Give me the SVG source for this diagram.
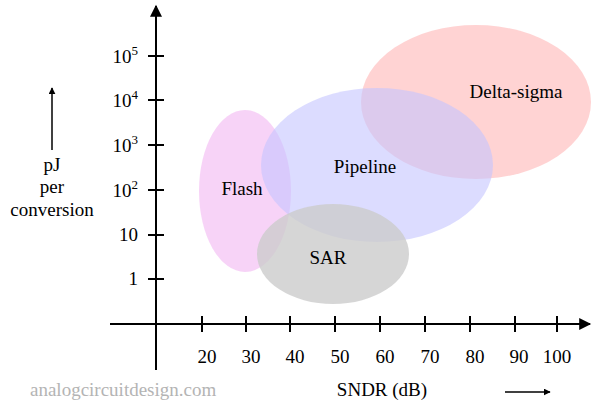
<svg xmlns="http://www.w3.org/2000/svg" width="600" height="407" viewBox="0 0 600 407">
<style>
text{font-family:"Liberation Serif","Times New Roman",serif;font-size:19px;fill:#000}
.ax{stroke:#000;stroke-width:2;fill:none}
.yl{text-anchor:end}
.xl{text-anchor:middle}
</style>
<defs>
<marker id="ah" viewBox="0 0 10 10" refX="9" refY="5" markerWidth="7" markerHeight="7" markerUnits="userSpaceOnUse" orient="auto"><path d="M0,0L10,5L0,10z" fill="#000"/></marker>
<marker id="big" viewBox="0 0 10 10" refX="9" refY="5" markerWidth="14" markerHeight="12" markerUnits="userSpaceOnUse" orient="auto"><path d="M0,0L10,5L0,10z" fill="#000"/></marker>
</defs>
<rect width="600" height="407" fill="#fff"/>
<g id="flash"><ellipse cx="245" cy="191" rx="46" ry="81" fill="#f4c4f4" opacity="0.75"/><text x="242" y="195" class="xl">Flash</text></g>
<g id="deltasigma"><ellipse cx="476" cy="102" rx="115" ry="77" fill="#ffc4c4" opacity="0.75"/><text x="516" y="98" class="xl">Delta-sigma</text></g>
<g id="pipeline"><ellipse cx="377" cy="165" rx="116" ry="77" fill="#c4c4ff" opacity="0.6"/><text x="365" y="173" class="xl">Pipeline</text></g>
<g id="sar"><ellipse cx="333" cy="254" rx="76" ry="50" fill="#cccccc" opacity="0.8"/><text x="328" y="264" class="xl">SAR</text></g>
<g id="connectors">
<line class="ax" x1="156" y1="370" x2="156" y2="6" marker-end="url(#big)"/>
<line class="ax" x1="110" y1="324" x2="590" y2="324" marker-end="url(#big)"/>
<g class="ax"><path d="M202,316v16M246,316v16M290,316v16M335,316v16M380,316v16M425,316v16M470,316v16M515,316v16M557,316v16"/>
<path d="M148,279h16M148,235h16M148,190h16M148,145h16M148,100h16M148,56h16"/></g>
<line x1="52" y1="150" x2="52" y2="88" stroke="#000" stroke-width="1.5" marker-end="url(#ah)"/>
<line x1="505" y1="392" x2="550" y2="392" stroke="#000" stroke-width="1.5" marker-end="url(#ah)"/>
</g>
<g id="labels">
<text x="207" y="363" class="xl">20</text><text x="251" y="363" class="xl">30</text><text x="295" y="363" class="xl">40</text><text x="340" y="363" class="xl">50</text><text x="385" y="363" class="xl">60</text><text x="430" y="363" class="xl">70</text><text x="475" y="363" class="xl">80</text><text x="519" y="363" class="xl">90</text><text x="557" y="363" class="xl">100</text>
<text x="138" y="285" class="yl">1</text><text x="138" y="241" class="yl">10</text>
<text x="138" y="197" class="yl">10<tspan dy="-8" font-size="13">2</tspan></text>
<text x="138" y="152" class="yl">10<tspan dy="-8" font-size="13">3</tspan></text>
<text x="138" y="107" class="yl">10<tspan dy="-8" font-size="13">4</tspan></text>
<text x="138" y="63" class="yl">10<tspan dy="-8" font-size="13">5</tspan></text>
<text x="52" y="171" class="xl">pJ</text><text x="52" y="193" class="xl">per</text><text x="52" y="216" class="xl">conversion</text>
<text x="382" y="396" class="xl">SNDR (dB)</text>
<text x="30" y="396" style="fill:#b4b4b4">analogcircuitdesign.com</text>
</g>
</svg>
